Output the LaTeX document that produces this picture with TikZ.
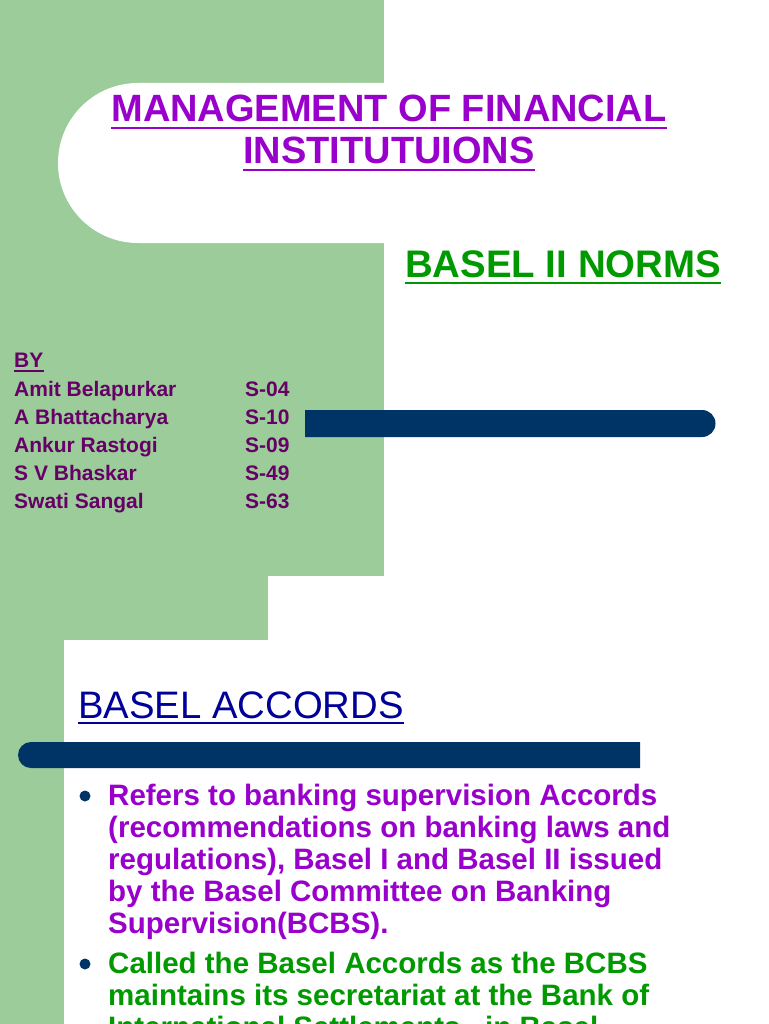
\documentclass[tikz,border=0pt]{standalone}
\usepackage{fontspec}
\setmainfont{Liberation Sans}
\begin{document}
\begin{tikzpicture}[x=1pt,y=-1pt,
  txt/.style={inner sep=0pt,anchor=base west},
  ulpurple/.style={draw=titlep,line width=2.5pt},
  bl1/.style={txt,text=titlep,font=\bfseries\fontsize{29.5}{32}\selectfont},
  bl2/.style={txt,text=greent,font=\bfseries\fontsize{29.5}{32}\selectfont},
]
\definecolor{bgg}{HTML}{9CCC9A}
\definecolor{titlep}{HTML}{9900CC}
\definecolor{greent}{HTML}{009900}
\definecolor{namep}{HTML}{660066}
\definecolor{barb}{HTML}{003366}
\definecolor{accb}{HTML}{000099}
\useasboundingbox (0,0) rectangle (768,1024);
\clip (0,0) rectangle (768,1024);
% backgrounds
\fill[bgg] (0,0) rectangle (384,576);
\fill[bgg] (0,576) rectangle (268,640);
\fill[bgg] (0,640) rectangle (64,1024);
\fill[white] (384,83) -- (138,83) arc[start angle=270,end angle=90,radius=80] -- (384,243) -- cycle;
\fill[white] (64,1024) -- (64,660) arc[start angle=180,end angle=270,radius=20] -- (768,640) -- (768,1024) -- cycle;
% bars
\fill[barb] (305,410) -- (702,410) arc[start angle=270,end angle=450,radius=13.5] -- (305,437) -- cycle;
\fill[barb] (640,742) -- (31,742) arc[start angle=270,end angle=90,radius=13] -- (640,768) -- cycle;
% titles
\node[txt,anchor=base,text=titlep,font=\bfseries\fontsize{38}{42}\selectfont] (t1) at (389,122) {MANAGEMENT OF FINANCIAL};
\node[txt,anchor=base,text=titlep,font=\bfseries\fontsize{38}{42}\selectfont] (t2) at (389,164) {INSTITUTUIONS};
\draw[ulpurple] ([yshift=-6]t1.base west) -- ([yshift=-6]t1.base east);
\draw[ulpurple] ([yshift=-6]t2.base west) -- ([yshift=-6]t2.base east);
\node[txt,text=greent,font=\bfseries\fontsize{38.4}{42}\selectfont] (t3) at (405,277) {BASEL II NORMS};
\draw[greent,line width=2.5pt] ([yshift=-6]t3.base west) -- ([yshift=-6]t3.base east);
% names
\begin{scope}[every node/.style={txt,text=namep,font=\bfseries\fontsize{21}{24}\selectfont}]
\node (by) at (14,367) {BY};
\draw[namep,line width=1.3pt] ([yshift=-4]by.base west) -- ([yshift=-4]by.base east);
\node (n1) at (14,396) {Amit Belapurkar};   \node (s1) at (245,396) {S-04};
\node (n2) at (14,424) {A Bhattacharya};    \node (s2) at (245,424) {S-10};
\node (n3) at (14,452) {Ankur Rastogi};     \node (s3) at (245,452) {S-09};
\node (n4) at (14,480) {S V Bhaskar};       \node (s4) at (245,480) {S-49};
\node (n5) at (14,508) {Swati Sangal};      \node (s5) at (245,508) {S-63};
\end{scope}
% second slide
\node[txt,text=accb,font=\fontsize{38.3}{44}\selectfont] (acc) at (78,718) {BASEL ACCORDS};
\draw[accb,line width=1.8pt] ([yshift=-5]acc.base west) -- ([yshift=-5]acc.base east);
\fill[barb] (85,796) circle (5.5);
\fill[barb] (85,964) circle (5.5);
\node[bl1] (a1) at (108,805) {Refers to banking supervision Accords};
\node[bl1] (a2) at (108,837) {(recommendations on banking laws and};
\node[bl1] (a3) at (108,869) {regulations), Basel I and Basel II issued};
\node[bl1] (a4) at (108,901) {by the Basel Committee on Banking};
\node[bl1] (a5) at (108,933) {Supervision(BCBS).};
\node[bl2] (c1) at (108,973) {Called the Basel Accords as the BCBS};
\node[bl2] (c2) at (108,1005) {maintains its secretariat at the Bank of};
\node[bl2] (c3) at (108,1037) {International Settlements , in Basel};
\end{tikzpicture}
\end{document}
